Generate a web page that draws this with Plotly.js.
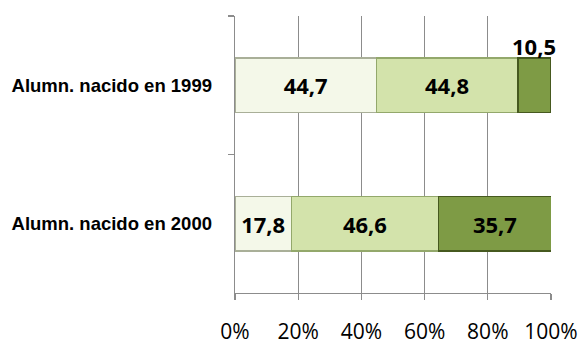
<!DOCTYPE html>
<html>
<head>
<meta charset="utf-8">
<script src="https://cdn.plot.ly/plotly-3.0.1.min.js"></script>
<style>html,body{margin:0;padding:0;background:#fff;}#chart{width:582px;height:343px;}</style>
</head>
<body>
<div id="chart"></div>
<script>
var categories = ["Alumn. nacido en 1999", "Alumn. nacido en 2000"];
var seriesA = [44.7, 17.8];
var seriesB = [44.8, 46.6];
var seriesC = [10.5, 35.7];
var tickVals = [0, 20, 40, 60, 80, 100];
var tickText = ["0%", "20%", "40%", "60%", "80%", "100%"];

function fmt(v) { return v.toFixed(1).replace('.', ','); }

var colors = ["#f4f8e9", "#d3e3ab", "#7e9b45"];
var edges = ["#a9af98", "#93a86b", "#46591f"];
var series = [seriesA, seriesB, seriesC];
var labelFont = {family: "Open Sans", size: 22, color: "#000", weight: "bold"};

var traces = series.map(function (vals, i) {
  return {
    type: "bar",
    orientation: "h",
    y: categories,
    x: vals,
    width: 0.39,
    marker: {color: colors[i], line: {color: edges[i], width: 1.5}},
    text: vals.map(function (v) { return v < 15 ? "" : fmt(v); }),
    textposition: "inside",
    insidetextanchor: "middle",
    textfont: labelFont,
    constraintext: "none",
    hoverinfo: "skip"
  };
});

// small segments get their label above the bar
var annotations = [];
categories.forEach(function (c, j) {
  var v = seriesC[j];
  if (v < 15) {
    annotations.push({
      x: seriesA[j] + seriesB[j] + v / 2,
      y: c,
      xref: "x", yref: "y",
      text: fmt(v),
      showarrow: false,
      yshift: 39,
      font: labelFont
    });
  }
});

var layout = {
  width: 582, height: 343,
  margin: {l: 235, r: 31, t: 16, b: 50},
  paper_bgcolor: "#fff", plot_bgcolor: "#fff",
  barmode: "stack",
  showlegend: false,
  xaxis: {
    range: [0, 100],
    tickvals: tickVals,
    ticktext: tickText,
    showgrid: true, gridcolor: "#8c8c8c", gridwidth: 1.3,
    showline: true, linecolor: "#8c8c8c", linewidth: 1.3,
    ticks: "outside", ticklen: 6, tickcolor: "#8c8c8c", tickwidth: 1.3,
    ticklabelstandoff: 13,
    tickfont: {family: "Open Sans", size: 21, color: "#000"},
    zeroline: false, fixedrange: true
  },
  yaxis: {
    type: "category",
    categoryorder: "array", categoryarray: categories,
    autorange: "reversed",
    showgrid: false,
    showline: true, linecolor: "#8c8c8c", linewidth: 1.3,
    ticks: "outside", tickson: "boundaries", ticklen: 6, tickcolor: "#8c8c8c", tickwidth: 1.3,
    ticklabelstandoff: 18,
    tickfont: {family: "Liberation Sans", size: 18.5, color: "#000", weight: "bold"},
    fixedrange: true
  },
  annotations: annotations
};

Plotly.newPlot("chart", traces, layout, {displayModeBar: false, staticPlot: true});
</script>
</body>
</html>
